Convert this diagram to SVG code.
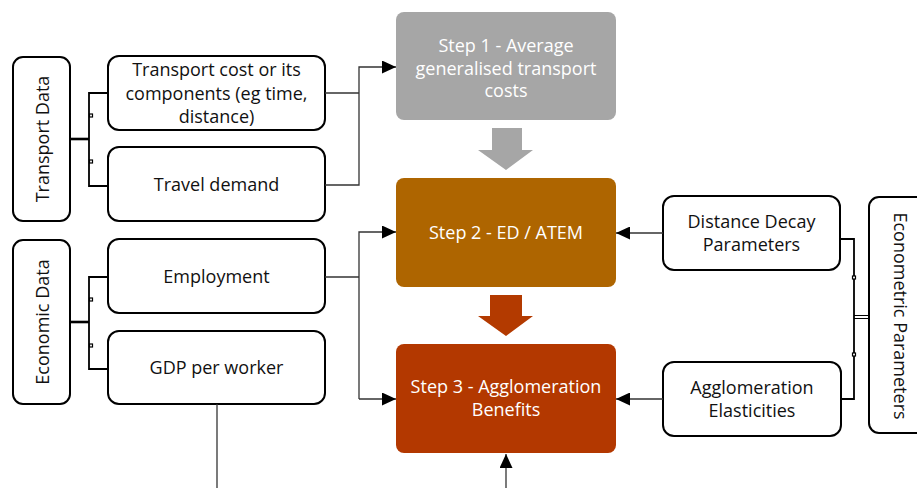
<svg xmlns="http://www.w3.org/2000/svg" width="917" height="488" viewBox="0 0 917 488">
<defs>
<style>
.box{fill:#fff;stroke:#000;stroke-width:2}
.t{font-family:"Open Sans","Liberation Sans",sans-serif;font-size:18px;fill:#111;text-anchor:middle}
.w{fill:#fff}
.con{fill:none;stroke:#333;stroke-width:1.3}
.br{fill:none;stroke:#000;stroke-width:1.8}
.sq{fill:#fff;stroke:#000;stroke-width:1.2}
</style>
<marker id="ah" markerUnits="userSpaceOnUse" markerWidth="15" markerHeight="13" refX="14" refY="6.5" orient="auto">
<path d="M0,0 L14,6.5 L0,13 Z" fill="#000"/>
</marker>
</defs>
<rect width="917" height="488" fill="#fff"/>

<g id="transport-data">
<rect class="box" x="13" y="57" width="57" height="164" rx="10"/>
<text class="t" transform="translate(49,139) rotate(-90)">Transport Data</text>
</g>
<g id="transport-cost">
<rect class="box" x="108" y="56" width="217" height="74" rx="11"/>
<text class="t" x="216.5" y="76">Transport cost or its</text>
<text class="t" x="216.5" y="100">components (eg time,</text>
<text class="t" x="216.5" y="123">distance)</text>
</g>
<g id="travel-demand">
<rect class="box" x="108" y="147" width="217" height="74" rx="11"/>
<text class="t" x="216.5" y="191">Travel demand</text>
</g>
<g id="economic-data">
<rect class="box" x="13" y="240" width="57" height="164" rx="10"/>
<text class="t" transform="translate(49,322) rotate(-90)">Economic Data</text>
</g>
<g id="employment">
<rect class="box" x="108" y="239" width="217" height="74" rx="11"/>
<text class="t" x="216.5" y="283">Employment</text>
</g>
<g id="gdp">
<rect class="box" x="108" y="331" width="217" height="73" rx="11"/>
<text class="t" x="216.5" y="374">GDP per worker</text>
</g>
<g id="step1">
<rect x="396" y="12" width="220" height="108" rx="8" fill="#a6a6a6"/>
<text class="t w" x="506" y="52">Step 1 - Average</text>
<text class="t w" x="506" y="75">generalised transport</text>
<text class="t w" x="506" y="97">costs</text>
</g>
<g id="step2">
<rect x="396" y="178" width="220" height="109" rx="8" fill="#ae6500"/>
<text class="t w" x="506" y="239">Step 2 - ED / ATEM</text>
</g>
<g id="step3">
<rect x="396" y="344" width="220" height="109" rx="8" fill="#b33800"/>
<text class="t w" x="506" y="393">Step 3 - Agglomeration</text>
<text class="t w" x="506" y="416">Benefits</text>
</g>
<g id="distance-decay">
<rect class="box" x="663" y="196" width="177" height="74" rx="11"/>
<text class="t" x="751.5" y="228">Distance Decay</text>
<text class="t" x="751.5" y="251">Parameters</text>
</g>
<g id="agglomeration-elasticities">
<rect class="box" x="663" y="362" width="178" height="74" rx="11"/>
<text class="t" x="752" y="394">Agglomeration</text>
<text class="t" x="752" y="417">Elasticities</text>
</g>
<g id="econometric-parameters">
<rect class="box" x="869" y="197" width="70" height="236" rx="10"/>
<text class="t" transform="translate(894,316) rotate(90)">Econometric Parameters</text>
</g>

<g id="step-arrows">
<path d="M492,128 H522 V150 H533 L506,170 L478,150 H492 Z" fill="#a6a6a6"/>
<path d="M490,295 H522 V316 H533 L506,336 L478,316 H490 Z" fill="#b33a00"/>
</g>

<g id="connectors">
<path d="M70,139 H89" stroke="#000" stroke-width="2.6"/>
<path class="br" d="M108,93 H89 V186 H108"/>
<rect class="sq" x="89.5" y="114" width="3" height="3"/>
<rect class="sq" x="89.5" y="160" width="3" height="3"/>
<path d="M70,322 H89" stroke="#000" stroke-width="2.6"/>
<path class="br" d="M108,277 H89 V369 H108"/>
<rect class="sq" x="89.5" y="298" width="3" height="3"/>
<rect class="sq" x="89.5" y="344" width="3" height="3"/>
<path class="br" d="M840,239 H854 V399 H841"/>
<path d="M854,315.5 H869 M854,318.5 H869" stroke="#000" stroke-width="1.2"/>
<rect class="sq" x="852.5" y="276" width="3" height="3"/>
<rect class="sq" x="852.5" y="353" width="3" height="3"/>

<path class="con" d="M325,93 H359"/>
<path class="con" d="M325,185 H359 V67 H396" marker-end="url(#ah)"/>
<path class="con" d="M325,277 H359"/>
<path class="con" d="M359,399 V232 H396" marker-end="url(#ah)"/>
<path class="con" d="M359,399 H396" marker-end="url(#ah)"/>
<path class="con" d="M663,233 H616" marker-end="url(#ah)"/>
<path class="con" d="M663,399 H616" marker-end="url(#ah)"/>
<path class="con" d="M217,404 V488"/>
<path class="con" d="M506,488 V454" marker-end="url(#ah)"/>
</g>
</svg>
